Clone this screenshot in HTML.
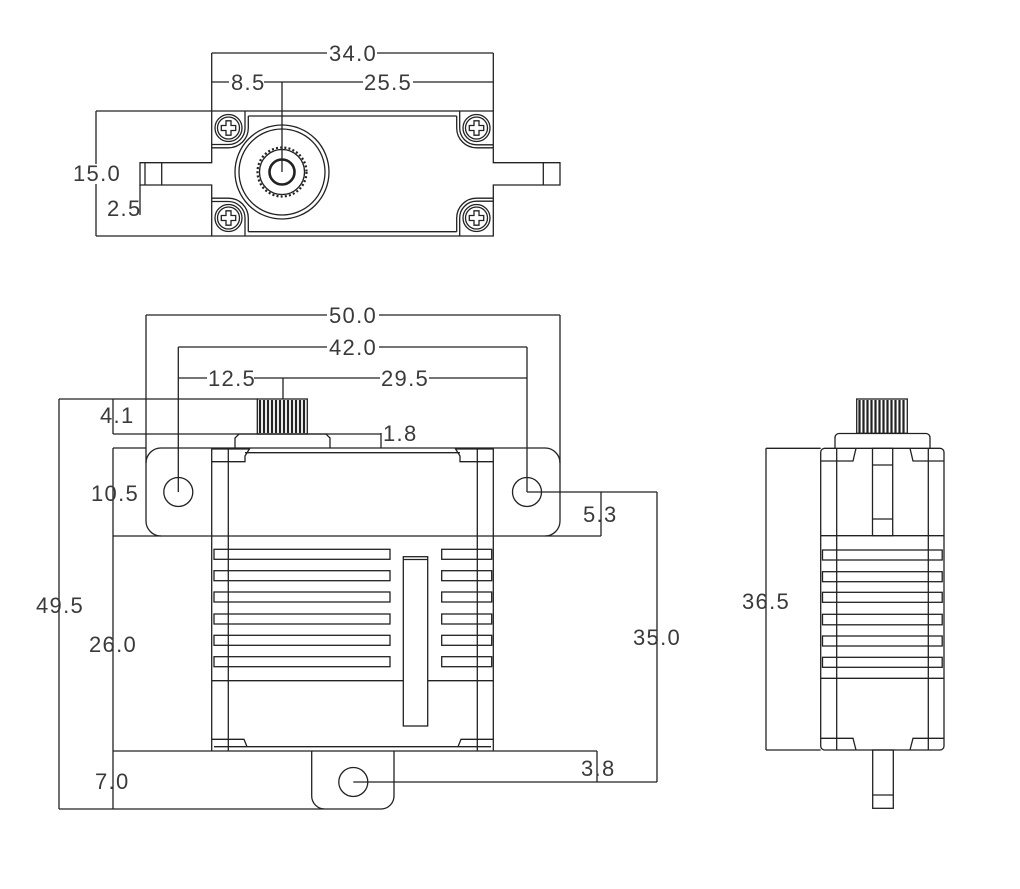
<!DOCTYPE html>
<html><head><meta charset="utf-8"><style>
html,body{margin:0;padding:0;background:#fff;}
svg{display:block;}
text{font-family:"Liberation Sans",sans-serif;font-size:22px;fill:#3a3a3a;letter-spacing:1.3px;}
</style></head><body>
<svg width="1020" height="889" viewBox="0 0 1020 889" xmlns="http://www.w3.org/2000/svg">
<rect width="1020" height="889" fill="#fff"/>
<g fill="none" stroke="#222" stroke-width="1.3">
<!-- ============ TOP VIEW ============ -->
<path d="M211.7 111 H493.3 V162.7 H560 V185 H493.3 V236 H211.7 V185 H140 V162.7 H211.7 Z"/>
<line x1="145" y1="162.7" x2="145" y2="185"/>
<line x1="161.7" y1="162.7" x2="161.7" y2="185"/>
<line x1="543.3" y1="162.7" x2="543.3" y2="185"/>
<line x1="248.3" y1="116" x2="456.7" y2="116"/>
<line x1="248.3" y1="231.7" x2="456.7" y2="231.7"/>
<path d="M245 111 V128 A16.5 16.5 0 0 1 228.5 144.5 H211.7"/>
<path d="M248.3 116 V128 A19.8 19.8 0 0 1 228.5 147.8 H211.7"/>
<path d="M459.7 111 V128 A16.8 16.8 0 0 0 476.5 144.8 H493.3"/>
<path d="M456.7 116 V128 A19.8 19.8 0 0 0 476.5 147.8 H493.3"/>
<path d="M245 236 V218 A16.5 16.5 0 0 0 228.5 201.5 H211.7"/>
<path d="M248.3 231.7 V218 A19.8 19.8 0 0 0 228.5 198.2 H211.7"/>
<path d="M459.7 236 V218 A16.8 16.8 0 0 1 476.5 201.2 H493.3"/>
<path d="M456.7 231.7 V218 A19.8 19.8 0 0 1 476.5 198.2 H493.3"/>
<g transform="translate(228.5,128)"><circle r="13.5"/><circle r="11"/><path d="M-2.5 -7.2 H2.5 V-2.5 H7.2 V2.5 H2.5 V7.2 H-2.5 V2.5 H-7.2 V-2.5 H-2.5 Z"/></g>
<g transform="translate(476.5,128)"><circle r="13.5"/><circle r="11"/><path d="M-2.5 -7.2 H2.5 V-2.5 H7.2 V2.5 H2.5 V7.2 H-2.5 V2.5 H-7.2 V-2.5 H-2.5 Z"/></g>
<g transform="translate(228.5,218)"><circle r="13.5"/><circle r="11"/><path d="M-2.5 -7.2 H2.5 V-2.5 H7.2 V2.5 H2.5 V7.2 H-2.5 V2.5 H-7.2 V-2.5 H-2.5 Z"/></g>
<g transform="translate(476.5,218)"><circle r="13.5"/><circle r="11"/><path d="M-2.5 -7.2 H2.5 V-2.5 H7.2 V2.5 H2.5 V7.2 H-2.5 V2.5 H-7.2 V-2.5 H-2.5 Z"/></g>
<circle cx="282" cy="172" r="47"/>
<circle cx="282" cy="172" r="43"/>
<circle cx="282" cy="172" r="24.5" stroke-width="2.2" stroke-dasharray="2 2.2"/>
<circle cx="282" cy="172" r="22.5"/>
<circle cx="282" cy="172" r="12.5" stroke-width="2.6"/>
<line x1="211.7" y1="53" x2="211.7" y2="111"/>
<line x1="493.3" y1="53" x2="493.3" y2="111"/>
<line x1="211.7" y1="53" x2="327" y2="53"/>
<line x1="377" y1="53" x2="493.3" y2="53"/>
<line x1="211.7" y1="82" x2="229" y2="82"/>
<line x1="264" y1="82" x2="363" y2="82"/>
<line x1="413" y1="82" x2="493.3" y2="82"/>
<line x1="282" y1="82" x2="282" y2="172"/>
<line x1="96" y1="111" x2="211.7" y2="111"/>
<line x1="96" y1="236" x2="211.7" y2="236"/>
<line x1="96" y1="111" x2="96" y2="164"/>
<line x1="96" y1="184" x2="96" y2="236"/>
<line x1="140" y1="185" x2="140" y2="215"/>

<!-- ============ FRONT VIEW ============ -->
<line x1="146" y1="315" x2="146" y2="463"/>
<line x1="560" y1="315" x2="560" y2="463"/>
<line x1="146" y1="315" x2="327" y2="315"/>
<line x1="379" y1="315" x2="560" y2="315"/>
<line x1="178.3" y1="347" x2="178.3" y2="492"/>
<line x1="527" y1="347" x2="527" y2="492"/>
<line x1="178.3" y1="347" x2="327" y2="347"/>
<line x1="379" y1="347" x2="527" y2="347"/>
<line x1="178.3" y1="378" x2="207" y2="378"/>
<line x1="254" y1="378" x2="380" y2="378"/>
<line x1="429" y1="378" x2="527" y2="378"/>
<line x1="283" y1="378" x2="283" y2="399"/>
<line x1="59" y1="399" x2="257.3" y2="399"/>
<line x1="59" y1="399" x2="59" y2="809"/>
<line x1="59" y1="809" x2="324" y2="809"/>
<line x1="113" y1="399" x2="113" y2="434"/>
<line x1="113" y1="434" x2="381" y2="434"/>
<line x1="381" y1="433" x2="381" y2="448"/>
<line x1="113" y1="448" x2="146" y2="448"/>
<line x1="113" y1="448" x2="113" y2="809"/>
<line x1="113" y1="536" x2="161" y2="536"/>
<line x1="113" y1="751" x2="597" y2="751"/>
<rect x="146" y="448" width="414" height="88" rx="15" ry="15"/>
<circle cx="178.3" cy="492" r="14.5"/>
<circle cx="527" cy="492" r="14.5"/>
<line x1="527" y1="492" x2="657" y2="492"/>
<line x1="601" y1="492" x2="601" y2="536"/>
<line x1="545" y1="536" x2="601" y2="536"/>
<line x1="657" y1="492" x2="657" y2="782"/>
<line x1="353.3" y1="782" x2="657" y2="782"/>
<line x1="597" y1="751" x2="597" y2="782"/>
<rect x="257.3" y="399" width="50" height="35"/>
<path d="M235 448 V438 L239 434 H326 L330 438 V448"/>
<line x1="211.7" y1="448" x2="211.7" y2="751"/>
<line x1="493.3" y1="448" x2="493.3" y2="751"/>
<line x1="228.3" y1="448" x2="228.3" y2="751"/>
<line x1="477.3" y1="448" x2="477.3" y2="751"/>
<line x1="245" y1="452.7" x2="460" y2="452.7"/>
<path d="M211.7 461.7 H245 V456 L250 448"/>
<path d="M493.3 461.7 H460 V456 L455 448"/>
<line x1="211.7" y1="449" x2="250" y2="449"/>
<line x1="455" y1="449" x2="493.3" y2="449"/>
<rect x="214" y="549.3" width="176" height="10"/>
<rect x="214" y="570.7" width="176" height="10"/>
<rect x="214" y="592" width="176" height="10"/>
<rect x="214" y="614" width="176" height="10"/>
<rect x="214" y="635.3" width="176" height="10"/>
<rect x="214" y="656.7" width="176" height="10"/>
<rect x="441.7" y="549.3" width="50" height="10"/>
<rect x="441.7" y="570.7" width="50" height="10"/>
<rect x="441.7" y="592" width="50" height="10"/>
<rect x="441.7" y="614" width="50" height="10"/>
<rect x="441.7" y="635.3" width="50" height="10"/>
<rect x="441.7" y="656.7" width="50" height="10"/>
<rect x="403.3" y="556.7" width="24.4" height="169.3"/>
<line x1="403.3" y1="559.5" x2="427.7" y2="559.5"/>
<line x1="211.7" y1="680.7" x2="403.3" y2="680.7"/>
<line x1="427.7" y1="680.7" x2="493.3" y2="680.7"/>
<path d="M211.7 739.3 H244 L247 746.7"/>
<path d="M493.3 739.3 H461 L458 746.7"/>
<line x1="214" y1="746.7" x2="491" y2="746.7"/>
<path d="M311.7 751 V796 A13 13 0 0 0 324.7 809 H381 A13 13 0 0 0 394 796 V751"/>
<circle cx="353.3" cy="782" r="14.5"/>

<!-- ============ SIDE VIEW ============ -->
<rect x="856.7" y="399" width="50.6" height="34.3"/>
<path d="M835 448 V437.5 A4 4 0 0 1 839 433.5 H926 A4 4 0 0 1 930 437.5 V448"/>
<rect x="820.7" y="448.3" width="123.3" height="301.7" rx="4" ry="4"/>
<line x1="836.7" y1="448" x2="836.7" y2="750"/>
<line x1="928.3" y1="448" x2="928.3" y2="750"/>
<rect x="872.5" y="448.3" width="20.2" height="87.4"/>
<line x1="872.5" y1="465" x2="892.7" y2="465"/>
<line x1="872.5" y1="519" x2="892.7" y2="519"/>
<path d="M820.7 461 H853 L856 448.3"/>
<path d="M944 461 H913 L910 448.3"/>
<line x1="820.7" y1="535.7" x2="944" y2="535.7"/>
<line x1="820.7" y1="678.3" x2="944" y2="678.3"/>
<rect x="822.5" y="550" width="119.7" height="10"/>
<rect x="822.5" y="571.7" width="119.7" height="10"/>
<rect x="822.5" y="592.3" width="119.7" height="10"/>
<rect x="822.5" y="614.3" width="119.7" height="10.5"/>
<rect x="822.5" y="636" width="119.7" height="10"/>
<rect x="822.5" y="657.3" width="119.7" height="10"/>
<path d="M820.7 738.3 H853 L856 750"/>
<path d="M944 738.3 H913 L910 750"/>
<rect x="872.7" y="750" width="20.6" height="58.3"/>
<line x1="872.7" y1="795" x2="893.3" y2="795"/>
<line x1="766" y1="448.3" x2="820.7" y2="448.3"/>
<line x1="766" y1="750" x2="820.7" y2="750"/>
<line x1="766" y1="448.3" x2="766" y2="750"/>
</g>
<g stroke="#222" stroke-width="2.2">
<line x1="260" y1="400" x2="260" y2="433"/><line x1="264" y1="400" x2="264" y2="433"/><line x1="268" y1="400" x2="268" y2="433"/><line x1="272" y1="400" x2="272" y2="433"/><line x1="276" y1="400" x2="276" y2="433"/><line x1="280" y1="400" x2="280" y2="433"/><line x1="284" y1="400" x2="284" y2="433"/><line x1="288" y1="400" x2="288" y2="433"/><line x1="292" y1="400" x2="292" y2="433"/><line x1="296" y1="400" x2="296" y2="433"/><line x1="300" y1="400" x2="300" y2="433"/><line x1="304" y1="400" x2="304" y2="433"/>
<line x1="859.5" y1="400" x2="859.5" y2="433"/><line x1="863.5" y1="400" x2="863.5" y2="433"/><line x1="867.5" y1="400" x2="867.5" y2="433"/><line x1="871.5" y1="400" x2="871.5" y2="433"/><line x1="875.5" y1="400" x2="875.5" y2="433"/><line x1="879.5" y1="400" x2="879.5" y2="433"/><line x1="883.5" y1="400" x2="883.5" y2="433"/><line x1="887.5" y1="400" x2="887.5" y2="433"/><line x1="891.5" y1="400" x2="891.5" y2="433"/><line x1="895.5" y1="400" x2="895.5" y2="433"/><line x1="899.5" y1="400" x2="899.5" y2="433"/><line x1="903.5" y1="400" x2="903.5" y2="433"/>
</g>
<g>
<text x="329" y="61">34.0</text>
<text x="231" y="90">8.5</text>
<text x="364" y="90">25.5</text>
<text x="73" y="181">15.0</text>
<text x="107" y="216">2.5</text>
<text x="329" y="323">50.0</text>
<text x="329" y="355">42.0</text>
<text x="208" y="386">12.5</text>
<text x="381" y="386">29.5</text>
<text x="100" y="423">4.1</text>
<text x="383" y="441">1.8</text>
<text x="91" y="501">10.5</text>
<text x="583" y="522">5.3</text>
<text x="36" y="613">49.5</text>
<text x="89" y="652">26.0</text>
<text x="633" y="645">35.0</text>
<text x="95" y="789">7.0</text>
<text x="581" y="776">3.8</text>
<text x="742" y="609">36.5</text>
</g>
</svg>
</body></html>
